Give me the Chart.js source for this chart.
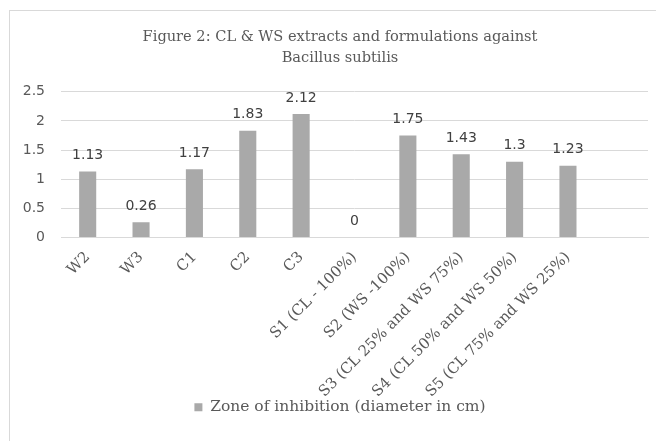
<!DOCTYPE html>
<html>
<head>
<meta charset="utf-8">
<script src="https://cdn.jsdelivr.net/npm/chart.js@4.4.1/dist/chart.umd.min.js"></script>
<style>
  html, body { margin: 0; padding: 0; background: #fff; overflow: hidden; }
  #marco {
    position: absolute; left: 9px; top: 10px;
    width: 660px; height: 440px;
    border: 1px solid #d9d9d9; background: #fff;
  }
</style>
</head>
<body>
<div id="marco"><canvas id="grafico" width="660" height="440"></canvas></div>
<script>
// Datos
const categorias = ["W2", "W3", "C1", "C2", "C3", "S1 (CL - 100%)", "S2 (WS -100%)",
    "S3 (CL 25% and WS 75%)", "S4 (CL 50% and WS 50%)", "S5 (CL 75% and WS 25%)", ""];
const zonaInhibicion = [1.13, 0.26, 1.17, 1.83, 2.12, 0, 1.75, 1.43, 1.3, 1.23, null];
const ticksY = [0, 0.5, 1, 1.5, 2, 2.5];

// Etiquetas de valor encima de cada barra
const etiquetasValor = {
    id: "etiquetasValor",
    afterLayout(chart) {
        // que las etiquetas de los ejes no se recorten
        chart.scales.y.left = 0;
        chart.scales.x.bottom = chart.height;
    },
    afterDatasetsDraw(chart) {
        const ctx = chart.ctx;
        const meta = chart.getDatasetMeta(0);
        ctx.save();
        ctx.font = "14px 'DejaVu Sans'";
        ctx.fillStyle = "#404040";
        ctx.textAlign = "center";
        ctx.textBaseline = "middle";
        meta.data.forEach((bar, i) => {
            const v = zonaInhibicion[i];
            if (v === null) return;
            ctx.fillText(String(v), bar.x, bar.y - 16);
        });
        ctx.restore();
    }
};

const ctx = document.getElementById("grafico").getContext("2d");
new Chart(ctx, {
    type: "bar",
    data: {
        labels: categorias,
        datasets: [{
            label: "Zone of inhibition (diameter in cm)",
            data: zonaInhibicion,
            backgroundColor: "#a9a9a9",
            borderWidth: 0,
            barPercentage: 0.32,
            categoryPercentage: 1
        }]
    },
    options: {
        responsive: false,
        animation: false,
        layout: { padding: { top: 0, right: 22, bottom: 26, left: 22 } },
        plugins: {
            title: {
                display: true,
                text: ["Figure 2: CL & WS extracts and formulations against", "Bacillus subtilis"],
                color: "#595959",
                font: { family: "'DejaVu Serif'", size: 14.6, weight: "normal", lineHeight: 1.43 },
                padding: { top: 15.5, bottom: 23.5 }
            },
            legend: {
                position: "bottom",
                labels: {
                    color: "#595959",
                    font: { family: "'DejaVu Serif'", size: 15.5 },
                    boxWidth: 8,
                    boxHeight: 8,
                    padding: 10
                }
            },
            tooltip: { enabled: false }
        },
        scales: {
            x: {
                grid: { display: false },
                border: { color: "#d9d9d9" },
                ticks: {
                    color: "#595959",
                    font: { family: "'DejaVu Serif'", size: 15 },
                    minRotation: 45,
                    maxRotation: 45,
                    autoSkip: false,
                    padding: 3
                },
                afterFit: s => { s.height = 152; }
            },
            y: {
                min: 0,
                max: 2.5,
                afterBuildTicks: s => { s.ticks = ticksY.map(v => ({ value: v })); },
                grid: { color: "#d9d9d9", drawTicks: false },
                border: { display: false },
                ticks: {
                    color: "#595959",
                    font: { family: "'DejaVu Sans'", size: 14 },
                    padding: 16,
                    callback: v => String(v)
                },
                afterFit: s => { s.width = 29; }
            }
        }
    },
    plugins: [etiquetasValor]
});
</script>
</body>
</html>
